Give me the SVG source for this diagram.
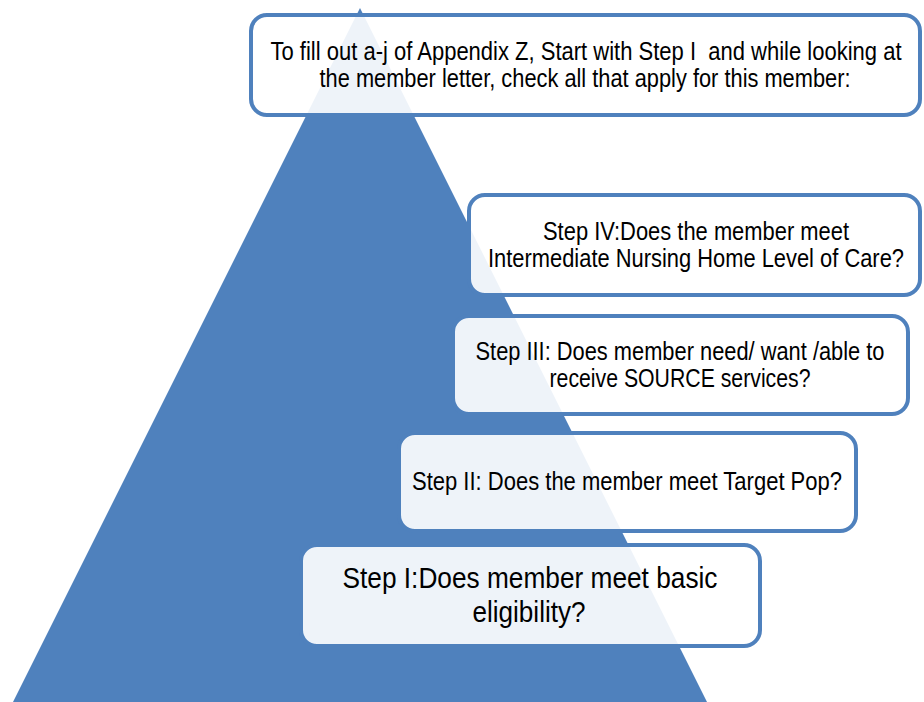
<svg xmlns="http://www.w3.org/2000/svg" width="924" height="702" viewBox="0 0 924 702">
<style>
.box{fill:#ffffff;fill-opacity:0.9;stroke:#4F81BD;stroke-width:4}
.t{font-family:"Liberation Sans",Arial,sans-serif;font-size:25px;fill:#000;text-anchor:middle}
.big{font-size:29.5px}
</style>
<rect width="924" height="702" fill="#ffffff"/>
<g id="pyramid"><polygon points="360,8 13,702 707,702" fill="#4F81BD"/></g>
<g id="connectors"></g>
<g id="intro">
<rect class="box" x="251" y="15" width="669" height="100" rx="16"/>
<text class="t" x="586" y="60" style="white-space:pre" textLength="631" lengthAdjust="spacingAndGlyphs">To fill out a-j of Appendix Z, Start with Step I  and while looking at</text>
<text class="t" x="585" y="87" textLength="531" lengthAdjust="spacingAndGlyphs">the member letter, check all that apply for this member:</text>
</g>
<g id="step4">
<rect class="box" x="469" y="195" width="451" height="100" rx="16"/>
<text class="t" x="696" y="240" textLength="306" lengthAdjust="spacingAndGlyphs">Step IV:Does the member meet</text>
<text class="t" x="696" y="267" textLength="416" lengthAdjust="spacingAndGlyphs">Intermediate Nursing Home Level of Care?</text>
</g>
<g id="step3">
<rect class="box" x="453" y="316" width="455" height="98" rx="16"/>
<text class="t" x="680" y="360" textLength="409" lengthAdjust="spacingAndGlyphs">Step III: Does member need/ want /able to</text>
<text class="t" x="680" y="387" textLength="261" lengthAdjust="spacingAndGlyphs">receive SOURCE services?</text>
</g>
<g id="step2">
<rect class="box" x="399" y="433" width="457" height="98" rx="16"/>
<text class="t" x="627" y="490" textLength="430" lengthAdjust="spacingAndGlyphs">Step II: Does the member meet Target Pop?</text>
</g>
<g id="step1">
<rect class="box" x="301" y="545" width="459" height="101" rx="16"/>
<text class="t big" x="530" y="588" textLength="375" lengthAdjust="spacingAndGlyphs">Step I:Does member meet basic</text>
<text class="t big" x="529" y="622" textLength="113" lengthAdjust="spacingAndGlyphs">eligibility?</text>
</g>
</svg>
